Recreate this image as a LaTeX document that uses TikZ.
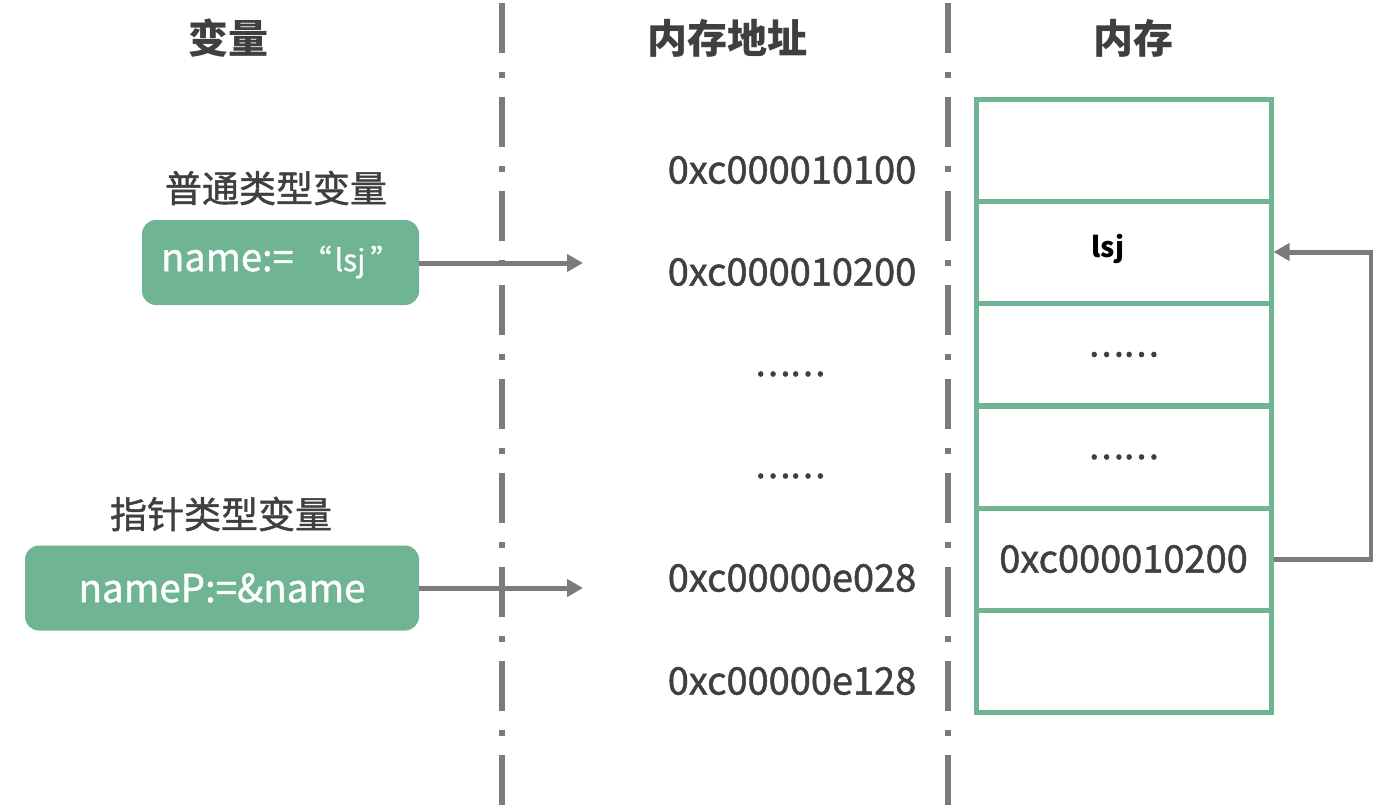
\documentclass[tikz,border=0pt]{standalone}
\usepackage{fontspec}
\setmainfont{Noto Sans CJK SC}
\usetikzlibrary{arrows.meta,calc}
\definecolor{grn}{HTML}{70B593}
\definecolor{txt}{HTML}{3F3F3F}
\definecolor{ln}{HTML}{7B7B7B}
\pgfdeclarelayer{background}
\pgfsetlayers{background,main}
\newcommand{\med}{\addfontfeature{FakeBold=1.2}}
\newcommand{\dotfont}{\fontsize{33}{36}\selectfont\addfontfeature{FakeBold=3}}
\tikzset{
  title/.style={font=\fontsize{40}{44}\selectfont\bfseries, text=txt, inner sep=0pt},
  sub/.style={font=\fontsize{37}{40}\selectfont\med, text=txt, inner sep=0pt},
  addr/.style={font=\fontsize{38}{42}\selectfont\med, text=txt, inner sep=0pt},
  dots/.style={font=\dotfont, text=txt, inner sep=0pt},
  gbox/.style={fill=grn, rounded corners=14pt, text=white, inner sep=0pt, minimum height=85pt},
  cell/.style={draw=grn, line width=5pt, minimum width=295pt, minimum height=102pt, inner sep=0pt, fill=white},
  sep/.style={draw=ln, line width=5.5pt, dash pattern=on 50pt off 19pt on 6pt off 19pt},
  arr/.style={draw=ln, line width=5pt, -{Triangle[length=16pt,width=17pt]}},
}
\newcommand{\softshadow}[1]{%
  \begin{pgfonlayer}{background}
  \foreach \i in {1,...,7}{
    \fill[black, opacity=0.018, rounded corners=14pt]
      ($(#1.north west)+(-\i+2,-\i+4)$) rectangle ($(#1.south east)+(\i+2,\i+4)$);
  }
  \end{pgfonlayer}}
\begin{document}
\begin{tikzpicture}[x=1pt,y=-1pt]
\useasboundingbox (0,0) rectangle (1373,811);
\fill[white] (0,0) rectangle (1373,811);

% separators
\coordinate (s1t) at (502,3);
\coordinate (s1b) at (502,811);
\coordinate (s2t) at (948,3);
\coordinate (s2b) at (948,811);
\draw[sep] (s1t) -- (s1b);
\draw[sep] (s2t) -- (s2b);

% titles
\node[title] (h1) at (228,38) {变量};
\node[title] (h2) at (727,38) {内存地址};
\node[title] (h3) at (1133,38) {内存};

% variables
\node[sub] (l1) at (276,188) {普通类型变量};
\node[gbox, minimum width=277pt] (b1) at (280.5,262.5) {};
\node[anchor=west, text=white, inner sep=0pt] (t1) at (161,262)
  {{\fontsize{38}{40}\selectfont\med name:=}\hspace{8pt}{\fontsize{30}{32}\selectfont\med “\hspace{3pt}lsj\hspace{5pt}”}};
\softshadow{b1}

\node[sub] (l2) at (221,514) {指针类型变量};
\node[gbox, minimum width=394pt, font=\fontsize{38.5}{40}\selectfont\med] (b2) at (222,588) {nameP:=\&name};
\softshadow{b2}

% addresses
\node[addr] (a1) at (792,170) {0xc000010100};
\node[addr] (a2) at (792,272) {0xc000010200};
\node[dots] (a3) at (790,374) {……};
\node[dots] (a4) at (790,476) {……};
\node[addr] (a5) at (792,578) {0xc00000e028};
\node[addr] (a6) at (792,681) {0xc00000e128};

% memory cells
\node[cell] (c1) at (1123.5,150) {};
\node[cell] (c2) at (1123.5,252) {};
\node[cell, font=\dotfont, text=txt] (c3) at (1123.5,354.5) {……};
\node[cell, font=\dotfont, text=txt] (c4) at (1123.5,457) {……};
\node[cell, font=\fontsize{38}{42}\selectfont\med, text=txt] (c5) at (1123.5,559) {0xc000010200};
\node[cell] (c6) at (1123.5,661) {};
\node[inner sep=0pt, font=\fontsize{28}{30}\selectfont\bfseries, text=black] (t2) at (1108,249) {lsj};

% arrows
\coordinate (e1) at (583,263);
\coordinate (e2) at (583,588);
\draw[arr] (b1.east |- e1) -- (e1);
\draw[arr] (b2.east |- e2) -- (e2);
\draw[arr] (c5.east) -- ++(98,0) |- (c2.east);
\end{tikzpicture}
\end{document}
